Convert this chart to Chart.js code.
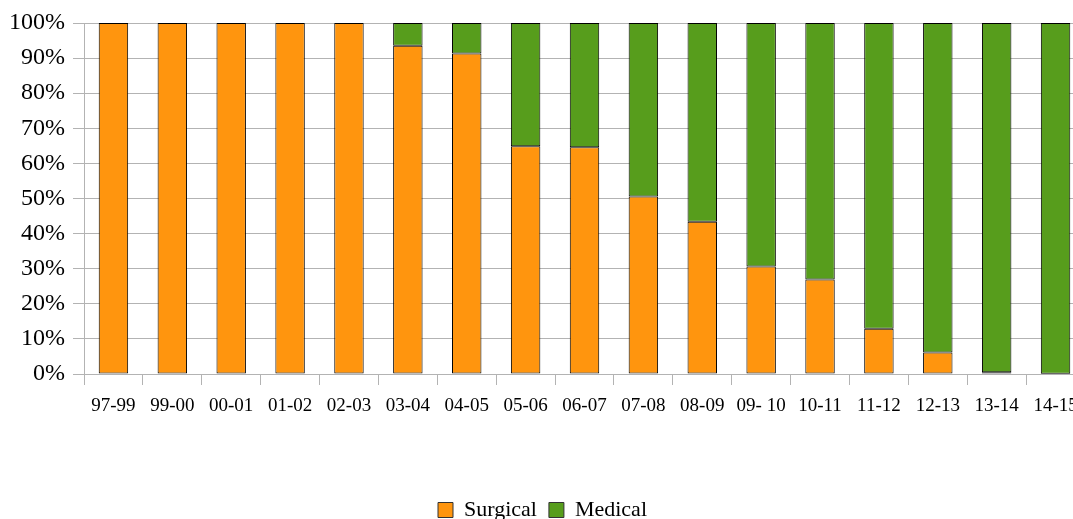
<!DOCTYPE html>
<html>
<head>
<meta charset="utf-8">
<script src="https://cdn.jsdelivr.net/npm/chart.js@4"></script>
<style>
  html, body { margin: 0; padding: 0; overflow: hidden; background: #ffffff; }
  #wrap { width: 1100px; height: 531px; }
</style>
</head>
<body>
<div id="wrap"><canvas id="c" width="1100" height="531"></canvas></div>
<script>
// Share of cases per year, in percent
const years = ['97-99', '99-00', '00-01', '01-02', '02-03', '03-04', '04-05', '05-06', '06-07',
               '07-08', '08-09', '09- 10', '10-11', '11-12', '12-13', '13-14', '14-15'];
const surgical = [100, 100, 100, 100, 100, 93.5, 91.3, 64.9, 64.6, 50.6, 43.4, 30.6, 26.9, 12.9, 6.1, 0.5, 0.1];
const medical  = [0, 0, 0, 0, 0, 6.5, 8.7, 35.1, 35.4, 49.4, 56.6, 69.4, 73.1, 87.1, 93.9, 99.5, 99.9];
const percentTicks = [0, 10, 20, 30, 40, 50, 60, 70, 80, 90, 100];

const serif = '"Liberation Serif", "Times New Roman", serif';
const gridGrey = '#b3b3b3';

new Chart(document.getElementById('c'), {
  type: 'bar',
  data: {
    labels: years,
    datasets: [
      { label: 'Surgical', data: surgical, backgroundColor: '#ff950e', borderColor: '#000000', borderWidth: 1, borderSkipped: false },
      { label: 'Medical', data: medical, backgroundColor: '#579d1c', borderColor: '#000000', borderWidth: 1, borderSkipped: false }
    ]
  },
  options: {
    responsive: false,
    animation: false,
    events: [],
    layout: { padding: { top: 23, left: 0, right: 15, bottom: 0 } },
    datasets: { bar: { categoryPercentage: 1, barPercentage: 0.5 } },
    scales: {
      x: {
        stacked: true,
        grid: { display: true, drawOnChartArea: false, drawTicks: true, tickLength: 11, color: gridGrey, offset: true },
        border: { display: true, color: gridGrey },
        ticks: { color: '#000000', font: { family: serif, size: 19 }, padding: 10, maxRotation: 0, autoSkip: false },
        afterFit: (s) => { s.height = 113; }
      },
      y: {
        stacked: true,
        min: 0,
        max: 100,
        afterBuildTicks: (s) => { s.ticks = percentTicks.map(v => ({ value: v })); },
        grid: { color: gridGrey, tickLength: 11 },
        border: { display: true, color: gridGrey },
        ticks: { color: '#000000', font: { family: serif, size: 24 }, padding: 8, callback: (v) => v + '%' },
        afterFit: (s) => { s.width = 84; }
      }
    },
    plugins: {
      tooltip: { enabled: false },
      legend: {
        position: 'bottom',
        labels: {
          color: '#000000',
          font: { family: serif, size: 22 },
          boxWidth: 15,
          boxHeight: 15,
          padding: 12,
          generateLabels: (chart) => chart.data.datasets.map((d, i) => ({
            text: d.label,
            fillStyle: d.backgroundColor,
            strokeStyle: '#333333',
            lineWidth: 1,
            hidden: false,
            datasetIndex: i,
            fontColor: '#000000'
          }))
        }
      }
    }
  }
});
</script>
</body>
</html>
